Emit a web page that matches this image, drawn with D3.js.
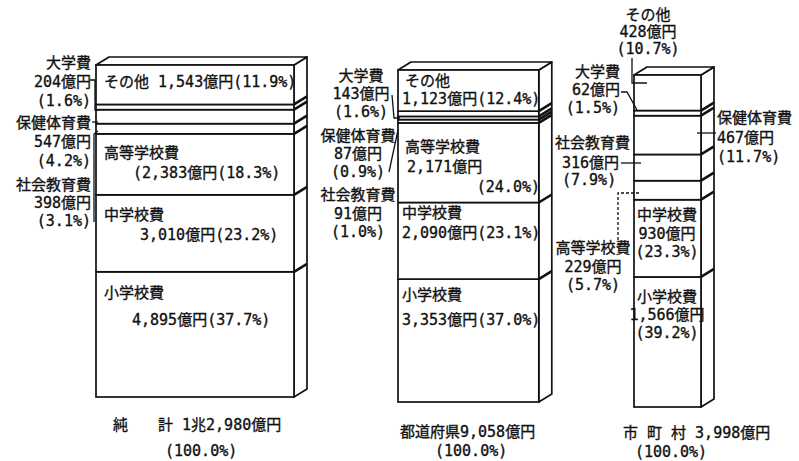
<!DOCTYPE html>
<html><head><meta charset="utf-8">
<script src="https://cdn.jsdelivr.net/npm/d3@7"></script>
<style>
body{margin:0;background:#fff}
svg text{font-family:"DejaVu Sans Mono","Noto Sans CJK JP",monospace;font-size:15px;fill:#111;stroke:#111;stroke-width:0.35;white-space:pre}
</style>
</head><body>
<svg id="c" width="799" height="461"></svg>
<script>
// ---- data ----
const categories = ["小学校費","中学校費","高等学校費","社会教育費","保健体育費","大学費","その他"];
const regions = ["純　　計","都道府県","市 町 村"];
const totals = [12980, 9058, 3998];
const totalLabels = ["1兆2,980億円","9,058億円","3,998億円"];
const valuesTotal = [4895, 3010, 2383, 398, 547, 204, 1543];
const valuesPref  = [3353, 2090, 2171, 91, 87, 143, 1123];
const valuesMuni  = [1566, 930, 229, 316, 467, 62, 428];
const pctTotal = [37.7, 23.2, 18.3, 3.1, 4.2, 1.6, 11.9];
const pctPref  = [37.0, 23.1, 24.0, 1.0, 0.9, 1.6, 12.4];
const pctMuni  = [39.2, 23.3, 5.7, 7.9, 11.7, 1.5, 10.7];

// ---- layout ----
const series = [valuesTotal, valuesPref, valuesMuni];
const pcts = [pctTotal, pctPref, pctMuni];
const svg = d3.select("#c");
const H = 332, DX = 13, DY = 8, SW = 1.7, INK = "#111";
const xPos = d3.scaleOrdinal().domain(regions).range([96, 398, 634]);
const basePos = d3.scaleOrdinal().domain(regions).range([397, 402, 407]);
const wScale = d3.scaleLinear().domain([3998, 12980]).range([67, 198]);
const hScale = d3.scaleLinear().domain([0, 100]).range([0, H]);

regions.forEach((r, bi) => {
  const vals = series[bi];
  const tot = d3.sum(vals);
  const x0 = xPos(r), w = wScale(totals[bi]), b = basePos(r), top = b - H;
  let cum = 0;
  const stack = vals.map((v, i) => {
    const bottom = b - hScale(cum / tot * 100);
    cum += v;
    return {cat: categories[i], top: b - hScale(cum / tot * 100), bottom};
  });
  const g = svg.append("g");
  g.append("path")
    .attr("d", `M${x0+w},${top} L${x0+w+DX},${top-DY} L${x0+w+DX},${b-DY} L${x0+w},${b} Z`)
    .attr("fill", "#fff").attr("stroke", INK).attr("stroke-width", SW).attr("stroke-linejoin","round");
  g.append("path")
    .attr("d", `M${x0},${top} L${x0+DX},${top-DY} L${x0+w+DX},${top-DY} L${x0+w},${top} Z`)
    .attr("fill", "#fff").attr("stroke", INK).attr("stroke-width", SW).attr("stroke-linejoin","round");
  g.selectAll("rect").data(stack).join("rect")
    .attr("x", x0).attr("y", d => d.top).attr("width", w).attr("height", d => d.bottom - d.top)
    .attr("fill", "#fff").attr("stroke", INK).attr("stroke-width", SW);
  g.selectAll("line.sb").data(stack.slice(0, -1)).join("line").attr("class", "sb")
    .attr("x1", x0 + w).attr("y1", d => d.top).attr("x2", x0 + w + DX).attr("y2", d => d.top - DY)
    .attr("stroke", INK).attr("stroke-width", 2.6);
});

// ---- labels ----
const fmt = d3.format(",");
const nm = i => categories[i];
const val = (s, i) => fmt(series[s][i]) + "億円";
const pc = (s, i) => "(" + pcts[s][i].toFixed(1) + "%)";
const labels = [
  // 純計
  {x:104, y:82,  a:"start", lines:[nm(6) + " " + val(0,6) + pc(0,6)]},
  {x:104, y:153, a:"start", lines:[nm(2)]},
  {x:133, y:173, a:"start", lines:["(" + val(0,2) + pc(0,2)]},
  {x:104, y:215, a:"start", lines:[nm(1)]},
  {x:140, y:235, a:"start", lines:[val(0,1) + pc(0,1)]},
  {x:104, y:293, a:"start", lines:[nm(0)]},
  {x:132, y:320, a:"start", lines:[val(0,0) + pc(0,0)]},
  {x:91, y:63,  a:"end", lh:19, lines:[nm(5), val(0,5), pc(0,5)]},
  {x:91, y:123, a:"end", lh:19, lines:[nm(4), val(0,4), pc(0,4)]},
  {x:91, y:185, a:"end", lh:18, lines:[nm(3), val(0,3), pc(0,3)]},
  {x:113, y:425, a:"start", lines:[regions[0] + " " + totalLabels[0]]},
  {x:165, y:451, a:"start", lines:["(100.0%)"]},
  // 都道府県
  {x:405, y:81,  a:"start", lines:[nm(6)]},
  {x:402, y:99,  a:"start", lines:[val(1,6) + pc(1,6)]},
  {x:405, y:147, a:"start", lines:[nm(2)]},
  {x:407, y:167, a:"start", lines:[val(1,2)]},
  {x:540, y:187, a:"end",   lines:[pc(1,2)]},
  {x:402, y:213, a:"start", lh:20, lines:[nm(1), val(1,1) + pc(1,1)]},
  {x:402, y:295, a:"start", lh:25, lines:[nm(0), val(1,0) + pc(1,0)]},
  {x:361, y:76,  a:"middle", lh:18, lines:[nm(5), val(1,5), pc(1,5)]},
  {x:358, y:136, a:"middle", lh:18, lines:[nm(4), val(1,4), pc(1,4)]},
  {x:358, y:195, a:"middle", lh:18.5, lines:[nm(3), val(1,3), pc(1,3)]},
  {x:400, y:432, a:"start", lines:[regions[1] + totalLabels[1]]},
  {x:435, y:451, a:"start", lines:["(100.0%)"]},
  // 市町村
  {x:648, y:15,  a:"middle", lh:17, lines:[nm(6), val(2,6), pc(2,6)]},
  {x:620, y:72,  a:"end", lh:18, lines:[nm(5), val(2,5), pc(2,5)]},
  {x:717, y:118, a:"start", lh:19.5, lines:[nm(4), val(2,4), pc(2,4)]},
  {x:555, y:143, a:"start", lines:[nm(3)]},
  {x:562, y:163, a:"start", lh:17, lines:[val(2,3), pc(2,3)]},
  {x:593, y:248, a:"middle", lh:18.5, lines:[nm(2), val(2,2), pc(2,2)]},
  {x:667, y:215, a:"middle", lh:18.5, lines:[nm(1), val(2,1), pc(2,1)]},
  {x:667, y:297, a:"middle", lh:18, lines:[nm(0), val(2,0), pc(2,0)]},
  {x:623, y:433, a:"start", lines:[regions[2] + " " + totalLabels[2]]},
  {x:671, y:452, a:"middle", lines:["(100.0%)"]}
];
const lg = svg.append("g");
labels.forEach(l => {
  l.lines.forEach((t, k) => {
    lg.append("text").attr("x", l.x).attr("y", l.y + k * (l.lh || 20))
      .attr("dy", "0.35em").attr("text-anchor", l.a).text(t);
  });
});

// ---- leader lines ----
const leaders = [
  {d:"M90,80 L95,80 L95,110 L98,110"},
  {d:"M92,122 L98,122"},
  {d:"M98,131 L94,134 L94,222"},
  {d:"M392,95 L394,118 L400,118"},
  {d:"M389,172 L398,130"},
  {d:"M632,58 L632,83 L647,83"},
  {d:"M621,92 L627,92 L637,110"},
  {d:"M697,133 L716,133"},
  {d:"M621,163 L641,163"},
  {d:"M618,240 L618,193 L640,193", dash:"3,2"}
];
svg.append("g").selectAll("path").data(leaders).join("path")
  .attr("d", d => d.d).attr("fill", "none").attr("stroke", INK).attr("stroke-width", 1.3)
  .attr("stroke-dasharray", d => d.dash || null);
</script>
</body></html>
